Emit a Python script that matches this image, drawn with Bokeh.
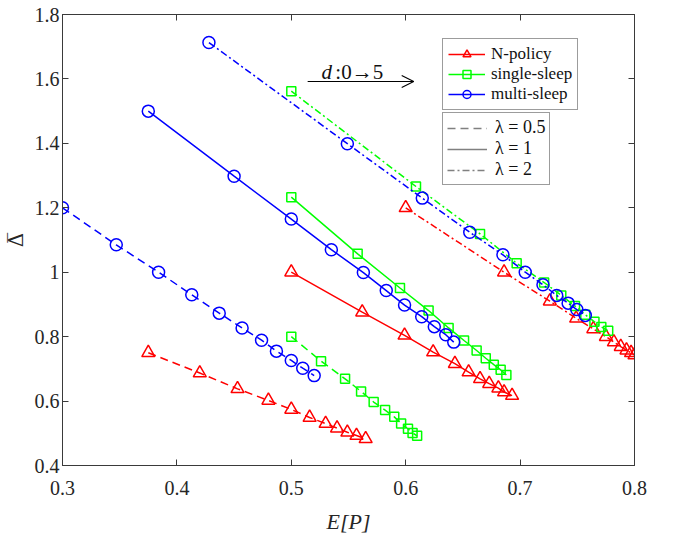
from bokeh.plotting import figure
from bokeh.models import (Range1d, FixedTicker, LinearAxis, Legend, LegendItem,
                          Label, Arrow, OpenHead, CustomJSTickFormatter)
from bokeh.embed import file_html
from bokeh.resources import INLINE

# ---------------- data ----------------
x_ticks = [0.3, 0.4, 0.5, 0.6, 0.7, 0.8]
y_ticks = [0.4, 0.6, 0.8, 1.0, 1.2, 1.4, 1.6, 1.8]

# N-policy
np_l05_x = [0.375, 0.420, 0.453, 0.480, 0.500, 0.516, 0.530, 0.540, 0.549, 0.557, 0.565]
np_l05_y = [0.750, 0.687, 0.638, 0.602, 0.574, 0.549, 0.530, 0.516, 0.503, 0.493, 0.483]
np_l1_x = [0.500, 0.562, 0.599, 0.624, 0.643, 0.655, 0.665, 0.673, 0.681, 0.686, 0.693]
np_l1_y = [1.000, 0.876, 0.804, 0.752, 0.716, 0.690, 0.669, 0.654, 0.640, 0.628, 0.617]
np_l2_x = [0.600, 0.686, 0.726, 0.749, 0.764, 0.775, 0.782, 0.788, 0.793, 0.797, 0.800]
np_l2_y = [1.200, 1.000, 0.910, 0.857, 0.824, 0.800, 0.783, 0.769, 0.758, 0.750, 0.743]

# single-sleep
ss_l05_x = [0.500, 0.526, 0.547, 0.561, 0.572, 0.582, 0.590, 0.596, 0.602, 0.606, 0.610]
ss_l05_y = [0.800, 0.724, 0.669, 0.630, 0.597, 0.572, 0.551, 0.530, 0.514, 0.501, 0.492]
ss_l1_x = [0.500, 0.558, 0.595, 0.620, 0.6375, 0.651, 0.662, 0.670, 0.677, 0.683, 0.688]
ss_l1_y = [1.233, 1.057, 0.951, 0.881, 0.827, 0.788, 0.757, 0.733, 0.713, 0.697, 0.681]
ss_l2_x = [0.500, 0.609, 0.665, 0.697, 0.721, 0.736, 0.748, 0.757, 0.765, 0.771, 0.777]
ss_l2_y = [1.562, 1.266, 1.119, 1.028, 0.968, 0.928, 0.895, 0.868, 0.846, 0.830, 0.818]

# multi-sleep
ms_l05_x = [0.300, 0.347, 0.384, 0.413, 0.437, 0.457, 0.474, 0.487, 0.500, 0.510, 0.520]
ms_l05_y = [1.200, 1.085, 1.000, 0.930, 0.873, 0.827, 0.789, 0.755, 0.726, 0.702, 0.679]
ms_l1_x = [0.375, 0.450, 0.500, 0.535, 0.563, 0.583, 0.599, 0.614, 0.625, 0.635, 0.642]
ms_l1_y = [1.500, 1.298, 1.165, 1.070, 0.999, 0.943, 0.898, 0.862, 0.831, 0.806, 0.783]
ms_l2_x = [0.428, 0.549, 0.6145, 0.656, 0.685, 0.7045, 0.720, 0.732, 0.742, 0.7496, 0.757]
ms_l2_y = [1.713, 1.399, 1.230, 1.124, 1.054, 1.000, 0.961, 0.928, 0.904, 0.884, 0.866]

policy_names = ["N-policy", "single-sleep", "multi-sleep"]
lambda_names = ["λ = 0.5", "λ = 1", "λ = 2"]

# annotation positions (data units)
arrow_x0, arrow_x1, arrow_y = 0.5143, 0.607, 1.592
ann_x, ann_y = 0.5265, 1.622

# ---------------- styling ----------------
RED, GREEN, BLUE = "#FF0000", "#00FF00", "#0000FF"
DASH = {"0.5": "8 5", "1": "solid", "2": "7 3 2 3"}
AX = "#3a3a3a"
FONT = "Liberation Serif"
NAN = float("nan")

p = figure(frame_width=572, frame_height=451,
           x_range=Range1d(0.3, 0.8), y_range=Range1d(0.4, 1.8),
           output_backend="svg", toolbar_location=None,
           min_border_left=59, min_border_right=46,
           min_border_top=14, min_border_bottom=62)
p.grid.visible = False
p.outline_line_color = AX
p.outline_line_width = 1
p.background_fill_color = "white"

xa = p.below[0]
ya = p.left[0]

fmt = CustomJSTickFormatter(code="return String(Math.round(tick*10)/10);")
blank = CustomJSTickFormatter(code="return '';")


def style(ax, ticks, formatter):
    ax.ticker = FixedTicker(ticks=ticks)
    ax.formatter = formatter
    ax.major_tick_in = 6
    ax.major_tick_out = 0
    ax.minor_tick_line_color = None
    ax.axis_line_color = AX
    ax.major_tick_line_color = AX
    ax.major_label_text_font = FONT
    ax.major_label_text_font_size = "20px"
    ax.major_label_text_color = "#262626"


style(xa, x_ticks, fmt)
style(ya, y_ticks, fmt)
xa.major_label_standoff = 15
ya.major_label_standoff = 3

top = LinearAxis()
style(top, x_ticks, blank)
top.major_label_standoff = 0
top.major_label_text_font_size = "1px"
p.add_layout(top, "above")
right = LinearAxis()
style(right, y_ticks, blank)
right.major_label_standoff = 0
right.major_label_text_font_size = "1px"
p.add_layout(right, "right")

xa.axis_label = "E[P]"
xa.axis_label_text_font = FONT
xa.axis_label_text_font_style = "italic"
xa.axis_label_text_font_size = "22px"
xa.axis_label_text_color = "#262626"
xa.axis_label_standoff = 11
ya.axis_label = "Δ\u0305"
ya.axis_label_text_font = "DejaVu Serif"
ya.axis_label_text_font_style = "normal"
ya.axis_label_text_font_size = "20px"
ya.axis_label_text_color = "#262626"
ya.axis_label_standoff = 4

series = [
    (np_l05_x, np_l05_y, RED, "triangle", 13, "0.5"),
    (np_l1_x, np_l1_y, RED, "triangle", 13, "1"),
    (np_l2_x, np_l2_y, RED, "triangle", 13, "2"),
    (ss_l05_x, ss_l05_y, GREEN, "square", 9, "0.5"),
    (ss_l1_x, ss_l1_y, GREEN, "square", 9, "1"),
    (ss_l2_x, ss_l2_y, GREEN, "square", 9, "2"),
    (ms_l05_x, ms_l05_y, BLUE, "circle", 12, "0.5"),
    (ms_l1_x, ms_l1_y, BLUE, "circle", 12, "1"),
    (ms_l2_x, ms_l2_y, BLUE, "circle", 12, "2"),
]
for xs, ys, c, m, s, lam in series:
    p.line(xs, ys, line_color=c, line_width=1.5, line_dash=DASH[lam])
    p.scatter(xs, ys, marker=m, size=s, line_color=c, fill_color=None, line_width=1.5)

# legend 1 (policies) - proxy renderers with a single NaN point (draw nothing in the plot)
items1 = []
for name, c, m, s in zip(policy_names, [RED, GREEN, BLUE],
                         ["triangle", "square", "circle"], [11, 7, 11]):
    lr = p.line([NAN], [NAN], line_color=c, line_width=1.5)
    sr = p.scatter([NAN], [NAN], marker=m, size=s, line_color=c, fill_color=None, line_width=1.5)
    items1.append(LegendItem(label=name, renderers=[lr, sr]))

# legend 2 (lambda)
items2 = []
for name, lam in zip(lambda_names, ["0.5", "1", "2"]):
    lr = p.line([NAN], [NAN], line_color="#808080", line_width=1.5, line_dash=DASH[lam])
    items2.append(LegendItem(label=name, renderers=[lr]))


def style_legend(lg, fs, gw, pad, standoff):
    lg.label_text_font = FONT
    lg.label_text_font_size = fs
    lg.label_text_color = "#111111"
    lg.label_height = 20
    lg.glyph_height = 20
    lg.glyph_width = gw
    lg.spacing = 0
    lg.padding = pad
    lg.margin = 0
    lg.label_standoff = standoff
    lg.border_line_color = AX
    lg.border_line_width = 1
    lg.background_fill_color = "white"
    lg.background_fill_alpha = 1


lg1 = Legend(items=items1, location=(380, 355))
style_legend(lg1, "17px", 37, 5, 6)
lg2 = Legend(items=items2, location=(380, 280))
style_legend(lg2, "18px", 40, 4, 8)
p.add_layout(lg1, "center")
p.add_layout(lg2, "center")

# annotation: d : 0 -> 5
p.add_layout(Label(x=ann_x, y=ann_y, text="d", text_font=FONT, text_font_style="italic",
                   text_font_size="21px", text_baseline="alphabetic", text_color="#111111"))
p.add_layout(Label(x=ann_x + 0.012, y=ann_y, text=":0→5", text_font=FONT,
                   text_font_size="21px", text_baseline="alphabetic", text_color="#111111"))
p.add_layout(Arrow(end=OpenHead(size=12, line_width=1.2, line_color="black"),
                   x_start=arrow_x0, y_start=arrow_y, x_end=arrow_x1, y_end=arrow_y,
                   line_width=1.2, line_color="black"))

open("out.html", "w").write(file_html(p, INLINE))
